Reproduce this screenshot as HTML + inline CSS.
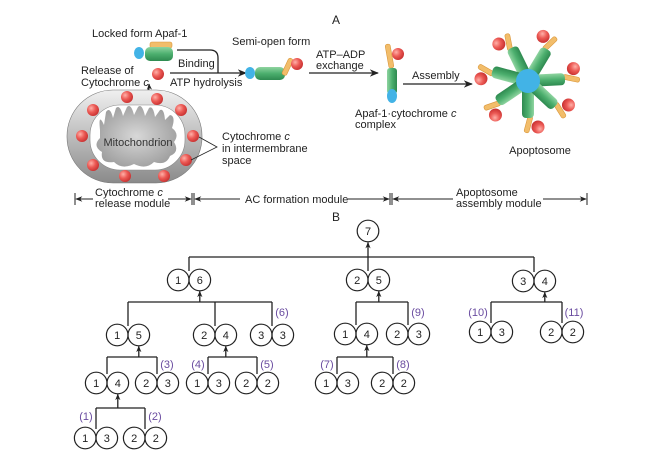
<!DOCTYPE html>
<html><head><meta charset="utf-8"><style>
html,body{margin:0;padding:0;background:#fff;}
svg{display:block;font-family:"Liberation Sans",sans-serif;}
</style></head><body>
<svg id="fig" width="656" height="456" viewBox="0 0 656 456">
<defs>
<radialGradient id="red" cx="0.35" cy="0.35" r="0.7"><stop offset="0" stop-color="#ffb0a8"/><stop offset="0.5" stop-color="#ec5a55"/><stop offset="1" stop-color="#c83030"/></radialGradient>
<linearGradient id="grn" x1="0" y1="0" x2="0" y2="1"><stop offset="0" stop-color="#8fd4a0"/><stop offset="0.5" stop-color="#4caf6e"/><stop offset="1" stop-color="#2e8a50"/></linearGradient>
<linearGradient id="grnv" x1="0" y1="0" x2="1" y2="0"><stop offset="0" stop-color="#8fd4a0"/><stop offset="0.5" stop-color="#4caf6e"/><stop offset="1" stop-color="#2e8a50"/></linearGradient>
<linearGradient id="mem" x1="0" y1="0" x2="0" y2="1"><stop offset="0" stop-color="#f0f0f0"/><stop offset="0.5" stop-color="#bdbdbd"/><stop offset="1" stop-color="#8a8a8a"/></linearGradient>
<radialGradient id="matrix" cx="0.5" cy="0.5" r="0.6"><stop offset="0" stop-color="#d8d8d8"/><stop offset="1" stop-color="#9a9a9a"/></radialGradient>
<marker id="ah" viewBox="0 0 10 10" refX="9" refY="5" markerWidth="7" markerHeight="7" orient="auto-start-reverse"><path d="M0,1 L10,5 L0,9 L3,5 z" fill="#222"/></marker>
<marker id="ah2" viewBox="0 0 10 10" refX="9" refY="5" markerWidth="5" markerHeight="5" orient="auto-start-reverse"><path d="M0,1 L10,5 L0,9 L3,5 z" fill="#222"/></marker>
</defs>

<g font-size="11" fill="#222">
<text x="332" y="24" font-size="12">A</text>
<text x="92" y="37">Locked form Apaf-1</text>
<g>
<rect x="150" y="42" width="22" height="6" rx="2" fill="#f2bd6a" stroke="#d9963a" stroke-width="0.6"/>
<rect x="145" y="47" width="28" height="14" rx="5" fill="url(#grn)"/>
<ellipse cx="139" cy="53" rx="5" ry="6" fill="#42b3e6"/>
</g>
<path d="M177,50 L210,50 Q218,50 218,58 L218,73" fill="none" stroke="#222" stroke-width="1.3"/>
<line x1="170" y1="73" x2="246" y2="73" stroke="#222" stroke-width="1.3" marker-end="url(#ah)"/>
<text x="178" y="67">Binding</text>
<text x="170" y="86">ATP hydrolysis</text>
<text x="81" y="74">Release of</text>
<text x="81" y="86">Cytochrome <tspan font-style="italic">c</tspan></text>
<circle cx="158" cy="74" r="6" fill="url(#red)"/>
<path d="M138,98 Q150,97 149,84" fill="none" stroke="#222" stroke-width="1.3" marker-end="url(#ah2)"/>

<g>
<rect x="67" y="90" width="135" height="93" rx="46" ry="46" fill="url(#mem)" stroke="#777" stroke-width="0.6"/>
<rect x="90" y="105" width="95" height="65" rx="30" ry="30" fill="#fff" stroke="#888" stroke-width="0.6"/>
<path d="M100,130 Q98,112 104,125 L106,112 Q110,106 113,118 L116,108 Q120,104 123,116 L127,107 Q131,103 134,115 L138,107 Q142,103 145,116 L149,108 Q153,105 155,117 L160,110 Q164,108 165,120 L170,115 Q176,116 172,128 Q180,134 174,142 Q180,152 170,156 Q166,166 154,162 Q146,170 134,164 Q122,170 114,162 Q100,164 102,152 Q92,146 100,138 Z" fill="url(#matrix)"/>
<text x="138" y="146" text-anchor="middle" font-size="11" fill="#333">Mitochondrion</text>
</g>
<g>
<circle cx="127" cy="97" r="6" fill="url(#red)"/><circle cx="157" cy="99" r="6" fill="url(#red)"/>
<circle cx="93" cy="110" r="6" fill="url(#red)"/><circle cx="181" cy="110" r="6" fill="url(#red)"/>
<circle cx="82" cy="136" r="6" fill="url(#red)"/><circle cx="193" cy="136" r="6" fill="url(#red)"/>
<circle cx="93" cy="165" r="6" fill="url(#red)"/><circle cx="186" cy="160" r="6" fill="url(#red)"/>
<circle cx="125" cy="176" r="6" fill="url(#red)"/><circle cx="164" cy="176" r="6" fill="url(#red)"/>
</g>
<polyline points="199,137 217,147 191,160" fill="none" stroke="#222" stroke-width="0.8"/>
<text x="222" y="140">Cytochrome <tspan font-style="italic">c</tspan></text>
<text x="222" y="152">in intermembrane</text>
<text x="222" y="164">space</text>

<text x="232" y="45">Semi-open form</text>
<g>
<rect x="255" y="67" width="30" height="13" rx="5" fill="url(#grn)"/>
<ellipse cx="250" cy="73" rx="5" ry="6" fill="#42b3e6"/>
<rect x="285" y="58" width="5" height="18" rx="2" fill="#f2bd6a" stroke="#d9963a" stroke-width="0.6" transform="rotate(25 288 67)"/>
<circle cx="297" cy="64" r="6" fill="url(#red)"/>
</g>
<text x="316" y="58">ATP–ADP</text>
<text x="316" y="69">exchange</text>
<line x1="309" y1="73" x2="378" y2="73" stroke="#222" stroke-width="1.3" marker-end="url(#ah)"/>
<g>
<rect x="387" y="44" width="5" height="24" rx="2" fill="#f2bd6a" stroke="#d9963a" stroke-width="0.6" transform="rotate(-10 390 56)"/>
<circle cx="398" cy="54" r="6" fill="url(#red)"/>
<rect x="387" y="68" width="10" height="26" rx="3" fill="url(#grnv)"/>
<ellipse cx="392" cy="96" rx="5" ry="7" fill="#42b3e6"/>
</g>
<text x="355" y="117">Apaf-1·cytochrome <tspan font-style="italic">c</tspan></text>
<text x="355" y="128">complex</text>
<text x="412" y="79">Assembly</text>
<line x1="403" y1="84" x2="472" y2="84" stroke="#222" stroke-width="1.3" marker-end="url(#ah)"/>
<g id="apop"></g>
<text x="540" y="154" text-anchor="middle">Apoptosome</text>

<g stroke="#222" stroke-width="1">
<line x1="75" y1="193" x2="75" y2="205"/><line x1="192" y1="193" x2="192" y2="205"/><line x1="194" y1="193" x2="194" y2="205"/><line x1="390" y1="193" x2="390" y2="205"/><line x1="392" y1="193" x2="392" y2="205"/><line x1="587" y1="193" x2="587" y2="205"/>
<line x1="93" y1="199" x2="76" y2="199" marker-end="url(#ah)"/>
<line x1="168" y1="199" x2="191" y2="199" marker-end="url(#ah)"/>
<line x1="240" y1="199" x2="195" y2="199" marker-end="url(#ah)"/>
<line x1="348" y1="199" x2="389" y2="199" marker-end="url(#ah)"/>
<line x1="453" y1="199" x2="393" y2="199" marker-end="url(#ah)"/>
<line x1="543" y1="199" x2="586" y2="199" marker-end="url(#ah)"/>
</g>
<text x="95" y="196">Cytochrome <tspan font-style="italic">c</tspan></text>
<text x="95" y="207">release module</text>
<text x="245" y="203">AC formation module</text>
<text x="456" y="196">Apoptosome</text>
<text x="456" y="207">assembly module</text>
</g>

<text x="332" y="221" font-size="12" fill="#222">B</text>
<g id="tree" font-size="11"></g>
</svg>
<script>
var NS = "http://www.w3.org/2000/svg";
function mk(tag, attrs, parent) {
  var e = document.createElementNS(NS, tag);
  for (var k in attrs) e.setAttribute(k, attrs[k]);
  parent.appendChild(e);
  return e;
}
var armAngles = [-26, 31, -75, 87, -124, 180, 133];
var apop = document.getElementById('apop');
armAngles.forEach(function (a, i) {
  var g = mk('g', {transform: 'translate(528 81) rotate(' + a + ')'}, apop);
  
  
  mk('rect', {x: -3, y: -52, width: 5, height: 17, rx: 2, fill: '#f2bd6a', stroke: '#d9963a', 'stroke-width': 0.6, transform: 'rotate(15 -1 -43)'}, g);
  mk('rect', {x: -6, y: -37, width: 12, height: 30, rx: 4, fill: 'url(#grnv)'}, g);
  mk('circle', {cx: -10, cy: -46, r: 6.5, fill: 'url(#red)'}, g);
});
var hub = mk('circle', {cx: 528, cy: 81, r: 12, fill: '#42b3e6'}, apop);



var leftVals  = [1, 2, 3, 1, 2, 3, 1, 2, 1, 2, 1, 2, 1, 2, 1, 2, 1, 2];
var rightVals = [6, 5, 4, 5, 4, 3, 4, 3, 3, 2, 4, 3, 3, 2, 3, 2, 3, 2];
var stepLabels = ['(1)', '(2)', '(3)', '(4)', '(5)', '(6)', '(7)', '(8)', '(9)', '(10)', '(11)'];
var rootValue = 7;
var nodeX = [189, 368, 534, 128, 215, 272, 356, 408, 491, 562, 107, 157, 208, 257, 337, 393, 96, 145];
var nodeY = [280, 280, 281, 335, 335, 335, 334, 334, 332, 332, 383, 383, 383, 383, 383, 383, 438, 438];
var labelX = [86, 155, 167, 198, 267, 282, 327, 403, 418, 478, 574];
var labelY = [416, 416, 364, 364, 364, 312, 364, 364, 312, 312, 312];
var R = 10.8;
var tree = document.getElementById('tree');
function line(x1, y1, x2, y2, arrow) {
  var l = mk('line', {x1: x1, y1: y1, x2: x2, y2: y2, stroke: '#222', 'stroke-width': 1.3}, tree);
  if (arrow) l.setAttribute('marker-end', 'url(#ah2)');
  
  
}
var brackets = [[-1, 257, [0, 1, 2]], [0, 302, [3, 4, 5]], [1, 302, [6, 7]], [2, 302, [8, 9]],
  [3, 357, [10, 11]], [4, 357, [12, 13]], [6, 357, [14, 15]], [10, 408, [16, 17]]];
brackets.forEach(function (b) {
  var xs = b[2].map(function (c) { return nodeX[c]; });
  var y = b[1];
  var minX = Math.min.apply(null, xs), maxX = Math.max.apply(null, xs);
  line(minX, y, maxX, y);
  if (b[0] === -1) {
    b[2].forEach(function (c) { if (c !== 1) line(nodeX[c], y, nodeX[c], nodeY[c] - 9); });
    line(nodeX[1], nodeY[1] - 9, 368, 242.5, true);
  } else {
    b[2].forEach(function (c) { line(nodeX[c], y, nodeX[c], nodeY[c] - 9); });
    var ax = nodeX[b[0]] + R;
    line(ax, y, ax, nodeY[b[0]] + R + 0.5, true);
  }
});
nodeX.forEach(function (x, i) {
  var g = mk('g', {}, tree);
  
  
  [[x - R, leftVals[i]], [x + R, rightVals[i]]].forEach(function (p) {
    mk('circle', {cx: p[0], cy: nodeY[i], r: R, fill: 'none', stroke: '#222', 'stroke-width': 1.2}, g);
    var t = mk('text', {x: p[0], y: nodeY[i] + 4, 'text-anchor': 'middle', fill: '#222'}, g);
    t.textContent = p[1];
  });
});
var rg = mk('g', {}, tree);


mk('circle', {cx: 368, cy: 231, r: R, fill: '#fff', stroke: '#222', 'stroke-width': 1.2}, rg);
var rt = mk('text', {x: 368, y: 235, 'text-anchor': 'middle', fill: '#222'}, rg);
rt.textContent = rootValue;
stepLabels.forEach(function (s, i) {
  var t = mk('text', {x: labelX[i], y: labelY[i] + 4, 'text-anchor': 'middle', fill: '#6a4ca0'}, tree);
  
  
  t.textContent = s;
});
</script>
</body></html>
